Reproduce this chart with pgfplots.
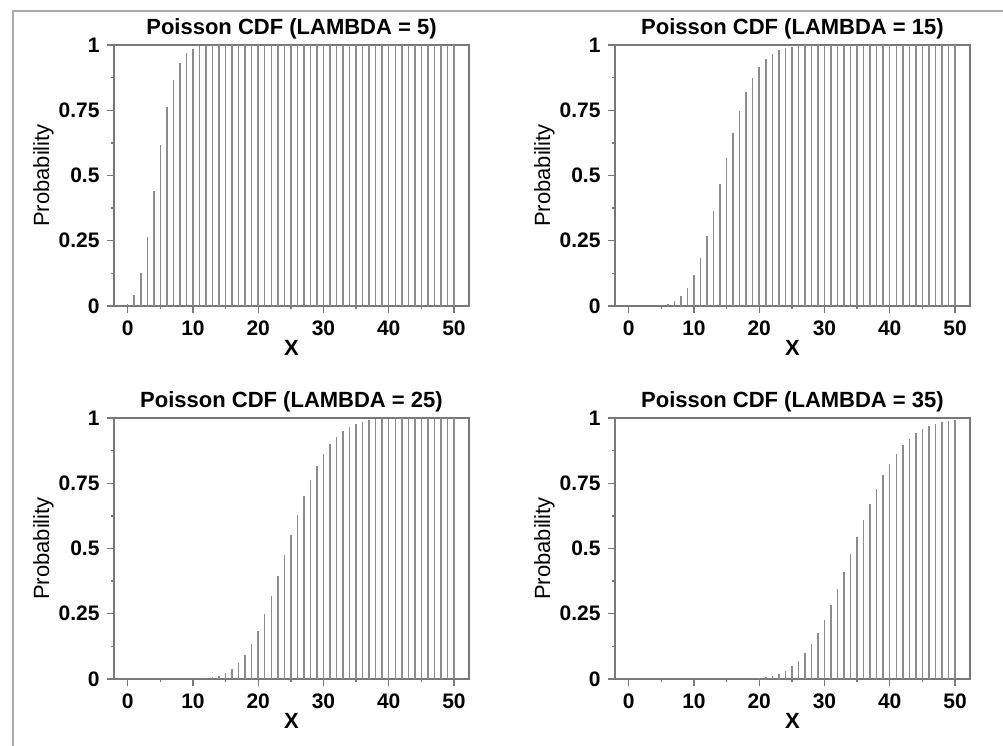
\documentclass[border=0pt]{standalone}
\usepackage{fontspec}
\setmainfont{Liberation Sans}
\usepackage{pgfplots}
\usepackage{pgfplotstable}
\pgfplotsset{compat=1.18}

\definecolor{axgray}{RGB}{120,120,120}
\definecolor{bargray}{RGB}{140,140,140}
\definecolor{framegray}{RGB}{170,170,170}

% Poisson CDF for lambda = 5, 15, 25, 35
\pgfplotstableread{
x  l5     l15    l25    l35
0  0.0067 0.0000 0.0000 0.0000
1  0.0404 0.0000 0.0000 0.0000
2  0.1247 0.0000 0.0000 0.0000
3  0.2650 0.0002 0.0000 0.0000
4  0.4405 0.0009 0.0000 0.0000
5  0.6160 0.0028 0.0000 0.0000
6  0.7622 0.0076 0.0000 0.0000
7  0.8666 0.0180 0.0000 0.0000
8  0.9319 0.0374 0.0001 0.0000
9  0.9682 0.0699 0.0002 0.0000
10 0.9863 0.1185 0.0006 0.0000
11 0.9945 0.1848 0.0014 0.0000
12 0.9980 0.2676 0.0031 0.0000
13 0.9993 0.3632 0.0065 0.0000
14 0.9998 0.4657 0.0124 0.0000
15 0.9999 0.5681 0.0223 0.0001
16 1.0000 0.6641 0.0377 0.0003
17 1.0000 0.7489 0.0605 0.0006
18 1.0000 0.8195 0.0920 0.0012
19 1.0000 0.8752 0.1336 0.0023
20 1.0000 0.9170 0.1855 0.0043
21 1.0000 0.9469 0.2473 0.0076
22 1.0000 0.9673 0.3175 0.0128
23 1.0000 0.9805 0.3939 0.0208
24 1.0000 0.9888 0.4734 0.0324
25 1.0000 0.9938 0.5529 0.0486
26 1.0000 0.9967 0.6294 0.0705
27 1.0000 0.9983 0.7002 0.0988
28 1.0000 0.9991 0.7634 0.1343
29 1.0000 0.9996 0.8179 0.1770
30 1.0000 0.9998 0.8633 0.2269
31 1.0000 0.9999 0.8999 0.2833
32 1.0000 1.0000 0.9285 0.3449
33 1.0000 1.0000 0.9502 0.4102
34 1.0000 1.0000 0.9662 0.4775
35 1.0000 1.0000 0.9775 0.5448
36 1.0000 1.0000 0.9854 0.6102
37 1.0000 1.0000 0.9908 0.6721
38 1.0000 1.0000 0.9943 0.7290
39 1.0000 1.0000 0.9966 0.7802
40 1.0000 1.0000 0.9980 0.8249
41 1.0000 1.0000 0.9988 0.8631
42 1.0000 1.0000 0.9993 0.8950
43 1.0000 1.0000 0.9996 0.9209
44 1.0000 1.0000 0.9998 0.9415
45 1.0000 1.0000 0.9999 0.9575
46 1.0000 1.0000 0.9999 0.9697
47 1.0000 1.0000 1.0000 0.9788
48 1.0000 1.0000 1.0000 0.9854
49 1.0000 1.0000 1.0000 0.9901
50 1.0000 1.0000 1.0000 0.9935
}\cdftable

\pgfplotsset{
  cdf/.style={
    scale only axis, width=355pt, height=261pt, anchor=north west,
    xmin=-2.1, xmax=52.3, ymin=0, ymax=1,
    xtick={0,10,...,50}, minor x tick num=1,
    ytick={0,0.25,0.5,0.75,1}, minor y tick num=1,
    tick pos=left, tick align=outside,
    major tick length=7pt, minor tick length=3pt,
    axis line style={axgray, line width=1.6pt},
    every tick/.style={axgray, line width=1.4pt},
    /pgf/number format/assume math mode=true,
    ticklabel style={font=\fontsize{21}{24}\selectfont\bfseries},
    xticklabel style={yshift=-4pt},
    yticklabel style={xshift=-4pt},
    label style={font=\fontsize{22}{25}\selectfont},
    xlabel={\bfseries X}, ylabel={Probability},
    xlabel style={yshift=2pt},
    ylabel style={yshift=-2pt},
    title style={font=\fontsize{22}{25}\selectfont\bfseries, yshift=-4pt},
  },
  spikes/.style={ycomb, bargray, line width=1.5pt, mark=none},
}

\begin{document}
\begin{tikzpicture}
\useasboundingbox (0pt,0pt) rectangle (1003pt,746pt);
\draw[framegray, line width=2pt] (13pt,0pt) -- (13pt,735pt) -- (1003pt,735pt);

\begin{axis}[cdf, at={(114pt,701pt)}, title={Poisson CDF (LAMBDA = 5)}]
\addplot[spikes] table[x=x, y=l5] {\cdftable};
\end{axis}

\begin{axis}[cdf, at={(615pt,701pt)}, title={Poisson CDF (LAMBDA = 15)}]
\addplot[spikes] table[x=x, y=l15] {\cdftable};
\end{axis}

\begin{axis}[cdf, at={(114pt,328pt)}, title={Poisson CDF (LAMBDA = 25)}]
\addplot[spikes] table[x=x, y=l25] {\cdftable};
\end{axis}

\begin{axis}[cdf, at={(615pt,328pt)}, title={Poisson CDF (LAMBDA = 35)}]
\addplot[spikes] table[x=x, y=l35] {\cdftable};
\end{axis}
\end{tikzpicture}
\end{document}
